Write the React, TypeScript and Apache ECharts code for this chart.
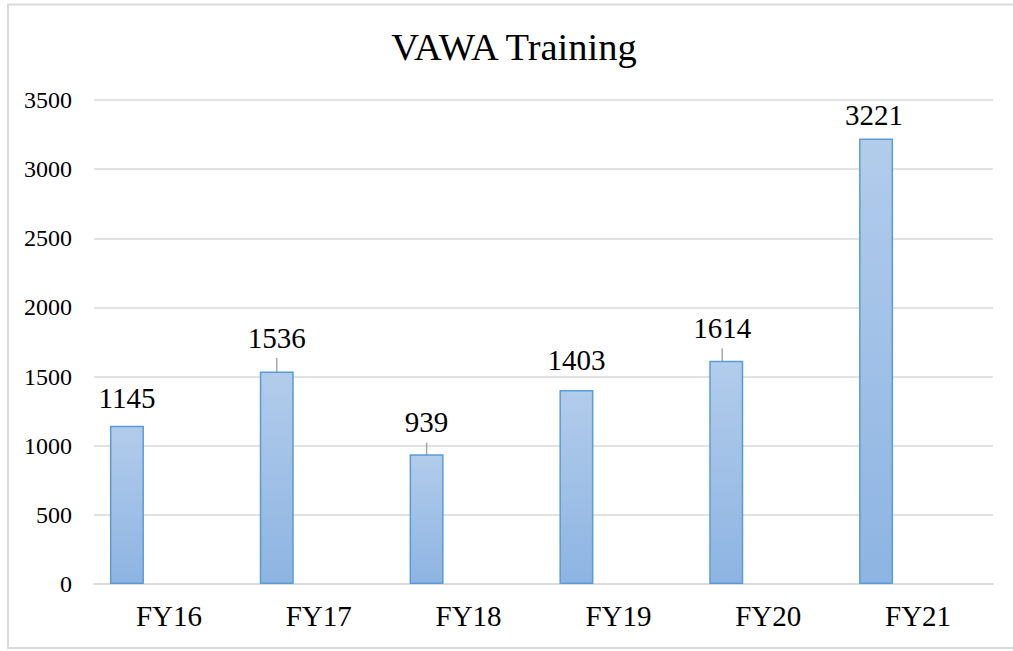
import React, { useEffect, useRef } from "react";
import * as echarts from "echarts";

const categories = ["FY16", "FY17", "FY18", "FY19", "FY20", "FY21"];
const values = [1145, 1536, 939, 1403, 1614, 3221];
// label centre height above bar top (px), horizontal shift, and leader line flag
const labelRise = [28, 34, 32, 30, 33, 24];
const labelShift = [0, 0, 0, 0, -4, -2];
const leaderLine = [false, true, true, false, true, false];
const yTicks = { min: 0, max: 3500, interval: 500 };

const FONT = "'Liberation Serif', 'Times New Roman', serif";
const LINE_PAD = 6;
const HALF_LABEL = 14.5;

export default function App() {
  const ref = useRef<HTMLDivElement>(null);
  useEffect(() => {
    if (!ref.current) return;
    const chart = echarts.init(ref.current, undefined, { renderer: "svg" });
    const data = values.map((v, i) => ({
      value: v,
      label: {
        padding: [0, 0, leaderLine[i] ? LINE_PAD : 0, 0],
        backgroundColor: "rgba(0,0,0,0)",
      },
      labelLine: { show: leaderLine[i] },
    }));
    chart.setOption({
      animation: false,
      backgroundColor: "#fff",
      title: {
        text: "VAWA Training",
        left: 509,
        top: 22,
        textAlign: "center",
        textStyle: { fontFamily: FONT, fontSize: 38.5, fontWeight: "normal", color: "#000" },
      },
      graphic: [
        {
          type: "rect",
          shape: { x: 8, y: 4.5, width: 1020, height: 643.5 },
          style: { fill: "none", stroke: "#d9d9d9", lineWidth: 2 },
          silent: true,
        },
      ],
      grid: { left: 94, right: 20, top: 100, bottom: 67, containLabel: false },
      xAxis: {
        type: "category",
        data: categories,
        axisLine: { show: true, lineStyle: { color: "#d9d9d9", width: 1.5 } },
        axisTick: { show: false },
        axisLabel: { fontFamily: FONT, fontSize: 29, color: "#000", margin: 17 },
      },
      yAxis: {
        type: "value",
        min: yTicks.min,
        max: yTicks.max,
        interval: yTicks.interval,
        axisLine: { show: false },
        axisTick: { show: false },
        splitLine: { lineStyle: { color: "#d9d9d9", width: 1.5 } },
        axisLabel: {
          fontFamily: FONT,
          fontSize: 24,
          color: "#000",
          margin: 22,
          formatter: (v: number) => String(v),
        },
      },
      series: [
        {
          type: "bar",
          data,
          barWidth: 34,
          barGap: "147%",
          itemStyle: {
            color: new echarts.graphic.LinearGradient(0, 0, 0, 1, [
              { offset: 0, color: "#b2cceb" },
              { offset: 1, color: "#8db4e2" },
            ]),
            borderColor: "#5b9bd5",
            borderWidth: 1.5,
          },
          label: {
            show: true,
            position: "top",
            distance: 0,
            fontFamily: FONT,
            fontSize: 29,
            color: "#000",
          },
          labelLine: { lineStyle: { color: "#a6a6a6", width: 1.5 } },
          labelLayout: (p: any) => {
            const i = p.dataIndex;
            const pad = leaderLine[i] ? LINE_PAD : 0;
            return {
              x: p.rect.x + p.rect.width / 2 + labelShift[i],
              y: p.rect.y - labelRise[i] + HALF_LABEL + pad,
              align: "center",
              verticalAlign: "bottom",
              hideOverlap: false,
            };
          },
        },
        {
          type: "bar",
          data: categories.map(() => null),
          barWidth: 34,
        },
      ],
    });
    return () => chart.dispose();
  }, []);
  return (
    <div
      ref={ref}
      style={{ position: "absolute", left: 0, top: 0, width: 1013, height: 651 }}
    />
  );
}
